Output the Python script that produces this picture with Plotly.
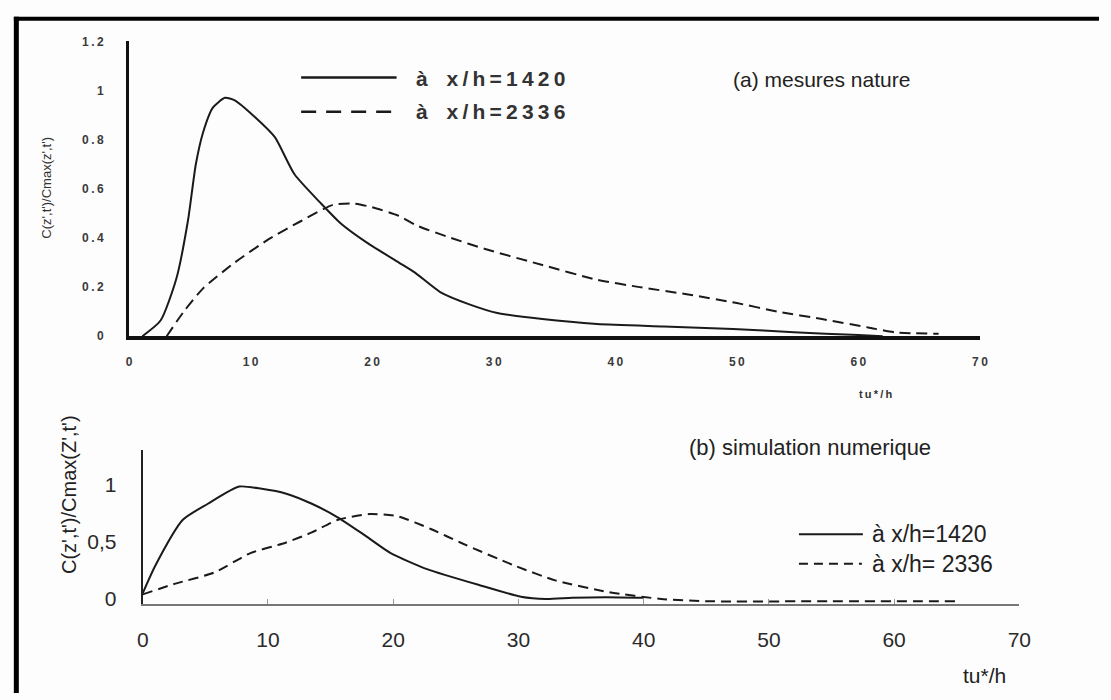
import plotly.graph_objects as go

# ---------------- data ----------------
# (a) mesures nature
a_t_1420 = [1.1, 2.6, 3.9, 4.85, 5.5, 6.1, 6.9, 7.9, 8.7, 10.4, 12.0, 13.6, 15.8, 17.4, 19.6,
            22.2, 23.5, 25.6, 28.0, 30.3, 34.0, 38.5, 44.0, 49.7, 54.7, 60.0, 62.0]
a_c_1420 = [0.0, 0.064, 0.235, 0.47, 0.70, 0.83, 0.93, 0.97, 0.96, 0.89, 0.81, 0.66, 0.54, 0.46, 0.38,
            0.30, 0.26, 0.18, 0.13, 0.095, 0.07, 0.05, 0.04, 0.03, 0.016, 0.005, 0.0]
a_t_2336 = [3.1, 4.5, 6.1, 8.7, 11.5, 14.2, 16.8, 18.5, 20.0, 22.2, 23.7, 26.5, 29.3, 34.0, 38.5,
            42.0, 46.0, 50.0, 53.4, 57.0, 60.8, 63.0, 66.6]
a_c_2336 = [0.0, 0.10, 0.195, 0.30, 0.395, 0.47, 0.535, 0.54, 0.525, 0.49, 0.45, 0.40, 0.355, 0.29, 0.23,
            0.20, 0.17, 0.135, 0.10, 0.07, 0.036, 0.016, 0.01]

# (b) simulation numerique
b_t_1420 = [0.0, 1.0, 3.2, 5.2, 7.7, 9.5, 11.4, 13.5, 15.6, 17.8, 19.8, 22.7, 26.9, 30.2, 32.2,
            34.3, 37.0, 40.0]
b_c_1420 = [0.05, 0.29, 0.69, 0.83, 0.98, 0.96, 0.92, 0.83, 0.71, 0.55, 0.40, 0.26, 0.12, 0.02, 0.0,
            0.01, 0.015, 0.01]
b_t_2336 = [0.0, 2.5, 5.7, 8.6, 11.4, 13.5, 15.6, 18.1, 20.4, 23.0, 25.4, 29.7, 33.0, 37.2, 41.4,
            45.0, 55.0, 65.0]
b_c_2336 = [0.04, 0.13, 0.23, 0.40, 0.49, 0.58, 0.69, 0.74, 0.72, 0.61, 0.49, 0.29, 0.16, 0.06, 0.0,
            -0.02, -0.02, -0.02]

a_xticks = [0, 10, 20, 30, 40, 50, 60, 70]
a_yticks = [0, 0.2, 0.4, 0.6, 0.8, 1.0, 1.2]
a_yticklabels = ["0", "0.2", "0.4", "0.6", "0.8", "1", "1.2"]
b_xticks = [0, 10, 20, 30, 40, 50, 60, 70]
b_yticks = [0, 0.5, 1.0]
b_yticklabels = ["0", "0,5", "1"]

series_names = ["à x/h=1420", "à x/h=2336"]
b_series_names = ["à x/h=1420", "à x/h= 2336"]
title_a = "(a) mesures nature"
title_b = "(b) simulation numerique"
ylabel_a = "C(z',t')/Cmax(z',t')"
ylabel_b = "C(z',t')/Cmax(Z',t')"
xlabel = "tu*/h"

# ---------------- layout helpers ----------------
W, H = 1111, 700
def px(x):
    return x / W
def py(y):
    return 1 - y / H

def spaced(s, sep="\u2009"):
    return sep.join(list(s))

def wide(s):
    # letter-spaced legend text of the scanned figure
    return "\u2009".join(list(s.replace(" ", "\u2002")))

INK = "#1a1a1a"
FONT = "Liberation Sans, Arial, sans-serif"

fig = go.Figure()

fig.add_trace(go.Scatter(x=a_t_1420, y=a_c_1420, mode="lines", line=dict(color=INK, width=2, shape="spline", smoothing=0.6),
                         xaxis="x", yaxis="y", showlegend=False, name=series_names[0]))
fig.add_trace(go.Scatter(x=a_t_2336, y=a_c_2336, mode="lines", line=dict(color=INK, width=2, dash="11px,6px", shape="spline", smoothing=0.6),
                         xaxis="x", yaxis="y", showlegend=False, name=series_names[1]))
fig.add_trace(go.Scatter(x=b_t_1420, y=b_c_1420, mode="lines", line=dict(color=INK, width=2, shape="spline", smoothing=0.6),
                         xaxis="x2", yaxis="y2", showlegend=False, name=b_series_names[0]))
fig.add_trace(go.Scatter(x=b_t_2336, y=b_c_2336, mode="lines", line=dict(color=INK, width=2, dash="10px,6px", shape="spline", smoothing=0.6),
                         xaxis="x2", yaxis="y2", showlegend=False, name=b_series_names[1]))

small_tick_font = dict(family=FONT, size=12, color="#3a3a3a", weight="bold")
big_tick_font = dict(family=FONT, size=21, color="#2a2a2a")

fig.update_layout(
    width=W, height=H,
    margin=dict(l=0, r=0, t=0, b=0),
    paper_bgcolor="#fdfdfd", plot_bgcolor="rgba(0,0,0,0)",
    xaxis=dict(domain=[px(125), px(990)], range=[0, 70], anchor="y",
               tickvals=a_xticks, ticktext=[spaced(str(v)) for v in a_xticks],
               showgrid=False, zeroline=False, showline=True, linecolor="#111", linewidth=3.5,
               ticks="", tickfont=small_tick_font, ticklabelstandoff=12),
    yaxis=dict(domain=[py(336), py(35)], range=[0, 1.2], anchor="x",
               tickvals=a_yticks, ticktext=[spaced(s) for s in a_yticklabels],
               showgrid=False, zeroline=False, showline=True, linecolor="#111", linewidth=3,
               ticks="", tickfont=small_tick_font, ticklabelstandoff=20),
    xaxis2=dict(domain=[px(139), px(1030)], range=[0, 70], anchor="y2",
                tickvals=b_xticks, ticktext=[str(v) for v in b_xticks],
                showgrid=False, zeroline=False, showline=True, linecolor="#777", linewidth=2,
                ticks="inside", ticklen=5, tickcolor="#999", tickwidth=1,
                tickfont=big_tick_font, ticklabelstandoff=16),
    yaxis2=dict(domain=[py(608.7), py(451.9)], range=[-0.04, 1.3], anchor="x2",
                tickvals=b_yticks, ticktext=b_yticklabels,
                showgrid=False, zeroline=False, showline=True, linecolor="#222", linewidth=2,
                ticks="", tickfont=big_tick_font, ticklabelstandoff=20),
)

shapes = []
# black scan frame (top and left)
shapes.append(dict(type="line", xref="paper", yref="paper", x0=px(8), x1=px(1111), y0=py(12), y1=py(12),
                   line=dict(color="black", width=4)))
shapes.append(dict(type="line", xref="paper", yref="paper", x0=px(10.5), x1=px(10.5), y0=py(10), y1=py(700),
                   line=dict(color="black", width=5)))
# legend samples (a)
shapes.append(dict(type="line", xref="paper", yref="paper", x0=px(300), x1=px(397), y0=py(72), y1=py(72),
                   line=dict(color=INK, width=2.5)))
shapes.append(dict(type="line", xref="paper", yref="paper", x0=px(300), x1=px(392), y0=py(107), y1=py(107),
                   line=dict(color=INK, width=2.5, dash="15px,10px")))
# legend samples (b)
shapes.append(dict(type="line", xref="paper", yref="paper", x0=px(806), x1=px(871), y0=py(538), y1=py(538),
                   line=dict(color=INK, width=2)))
shapes.append(dict(type="line", xref="paper", yref="paper", x0=px(806), x1=px(870), y0=py(568), y1=py(568),
                   line=dict(color=INK, width=2, dash="9px,6px")))
fig.update_layout(shapes=shapes)

ann = []
leg_font_a = dict(family=FONT, size=21, color="#333", weight="bold")
ann.append(dict(x=px(415), y=py(73), xref="paper", yref="paper", xanchor="left", yanchor="middle",
                text=wide(series_names[0]), showarrow=False, font=leg_font_a))
ann.append(dict(x=px(415), y=py(107), xref="paper", yref="paper", xanchor="left", yanchor="middle",
                text=wide(series_names[1]), showarrow=False, font=leg_font_a))
ann.append(dict(x=px(737), y=py(74), xref="paper", yref="paper", xanchor="left", yanchor="middle",
                text=title_a, showarrow=False, font=dict(family=FONT, size=21, color="#222")))
ann.append(dict(x=px(884), y=py(395), xref="paper", yref="paper", xanchor="center", yanchor="middle",
                text=spaced(xlabel), showarrow=False, font=dict(family=FONT, size=11, color="#333", weight="bold")))
ann.append(dict(x=px(41), y=py(184), xref="paper", yref="paper", xanchor="center", yanchor="middle",
                text=ylabel_a, textangle=-90, showarrow=False, font=dict(family=FONT, size=13, color="#333")))
# (b)
ann.append(dict(x=px(692), y=py(449), xref="paper", yref="paper", xanchor="left", yanchor="middle",
                text=title_b, showarrow=False, font=dict(family=FONT, size=22, color="#222")))
ann.append(dict(x=px(878), y=py(538), xref="paper", yref="paper", xanchor="left", yanchor="middle",
                text=b_series_names[0], showarrow=False, font=dict(family=FONT, size=23, color="#222")))
ann.append(dict(x=px(878), y=py(568), xref="paper", yref="paper", xanchor="left", yanchor="middle",
                text=b_series_names[1], showarrow=False, font=dict(family=FONT, size=23, color="#222")))
ann.append(dict(x=px(995), y=py(682), xref="paper", yref="paper", xanchor="center", yanchor="middle",
                text=xlabel, showarrow=False, font=dict(family=FONT, size=21, color="#222")))
ann.append(dict(x=px(64), y=py(497), xref="paper", yref="paper", xanchor="center", yanchor="middle",
                text=ylabel_b, textangle=-90, showarrow=False, font=dict(family=FONT, size=20, color="#222")))
fig.update_layout(annotations=ann)

fig.write_html("out.html")
